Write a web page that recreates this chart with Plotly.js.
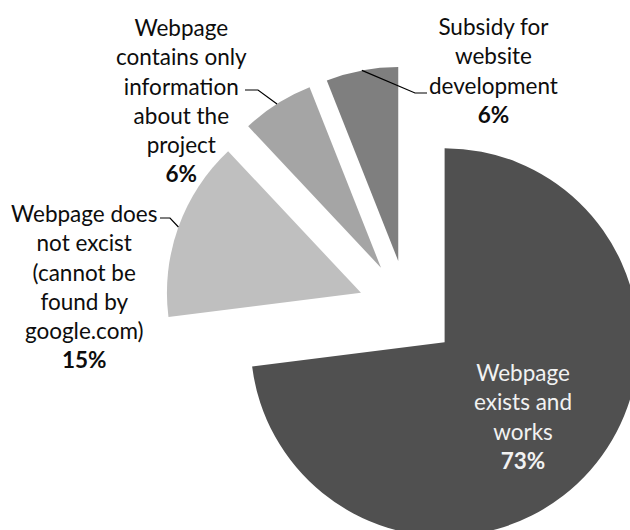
<!DOCTYPE html>
<html>
<head>
<meta charset="utf-8">
<script src="https://cdn.plot.ly/plotly-3.0.1.min.js"></script>
<style>
html, body { margin: 0; padding: 0; overflow: hidden; background: #ffffff; }
#chart { width: 660px; height: 560px; }
</style>
</head>
<body>
<div id="chart"></div>
<script>
// ---- data ----
const categories = [
  'Webpage exists and works',
  'Webpage does not excist (cannot be found by google.com)',
  'Webpage contains only information about the project',
  'Subsidy for website development'
];
const values = [73, 15, 6, 6];
const labelLines = [
  ['Webpage', 'exists and', 'works'],
  ['Webpage does', 'not excist', '(cannot be', 'found by', 'google.com)'],
  ['Webpage', 'contains only', 'information', 'about the', 'project'],
  ['Subsidy for', 'website', 'development']
];
const sliceColors = ['#505050', '#bfbfbf', '#a5a5a5', '#7f7f7f'];

// ---- layout config ----
const W = 660, H = 560;
const PULL = 0.255;
const FONT = 'Lato, "Open Sans", sans-serif';
// label block centres (pixels) and leader elbows
const labelPos = [
  {x: 523, y: 416, color: '#f2f2f2'},
  {x: 83.5, y: 286.5, color: '#0d0d0d', elbow: [170, 218], end: [160, 218]},
  {x: 181.5, y: 100.5, color: '#0d0d0d', elbow: [258, 90], end: [245, 90]},
  {x: 493, y: 70, color: '#0d0d0d', elbow: [415, 93], end: [427, 93]}
];

const total = values.reduce((a, b) => a + b, 0);
const px2x = v => v / W;
const px2y = v => 1 - v / H;

const annotations = labelLines.map((lines, i) => ({
  xref: 'paper', yref: 'paper',
  x: px2x(labelPos[i].x), y: px2y(labelPos[i].y),
  xanchor: 'center', yanchor: 'middle',
  showarrow: false, align: 'center',
  text: lines.join('<br>') + '<br><b>' + Math.round(values[i] / total * 100) + '%</b>',
  font: {family: FONT, size: 22.5, color: labelPos[i].color}
}));

const trace = {
  type: 'pie',
  labels: categories,
  values: values,
  sort: false,
  direction: 'clockwise',
  rotation: 0,
  pull: PULL,
  textinfo: 'none',
  hoverinfo: 'skip',
  marker: {colors: sliceColors, line: {width: 0}},
  domain: {x: [0.23485, 1], y: [0.0125, 0.8821]},
  showlegend: false
};

const layout = {
  width: W, height: H,
  margin: {l: 0, r: 0, t: 0, b: 0},
  paper_bgcolor: '#ffffff',
  plot_bgcolor: '#ffffff',
  showlegend: false,
  annotations: annotations
};

Plotly.newPlot('chart', [trace], layout, {staticPlot: true, displayModeBar: false}).then(gd => {
  const cd = gd.calcdata[0];
  const cd0 = cd[0];
  const shapes = [];
  for (let i = 1; i < cd.length; i++) {
    const pt = cd[i];
    const sx = cd0.cx + (1 + PULL) * pt.pxmid[0];
    const sy = cd0.cy + (1 + PULL) * pt.pxmid[1];
    const lp = labelPos[i];
    shapes.push({
      type: 'path', xref: 'paper', yref: 'paper',
      path: 'M ' + px2x(sx) + ',' + px2y(sy) +
            ' L ' + px2x(lp.elbow[0]) + ',' + px2y(lp.elbow[1]) +
            ' L ' + px2x(lp.end[0]) + ',' + px2y(lp.end[1]),
      line: {color: '#000000', width: 1.2}
    });
  }
  return Plotly.relayout(gd, {shapes: shapes});
});
</script>
</body>
</html>
